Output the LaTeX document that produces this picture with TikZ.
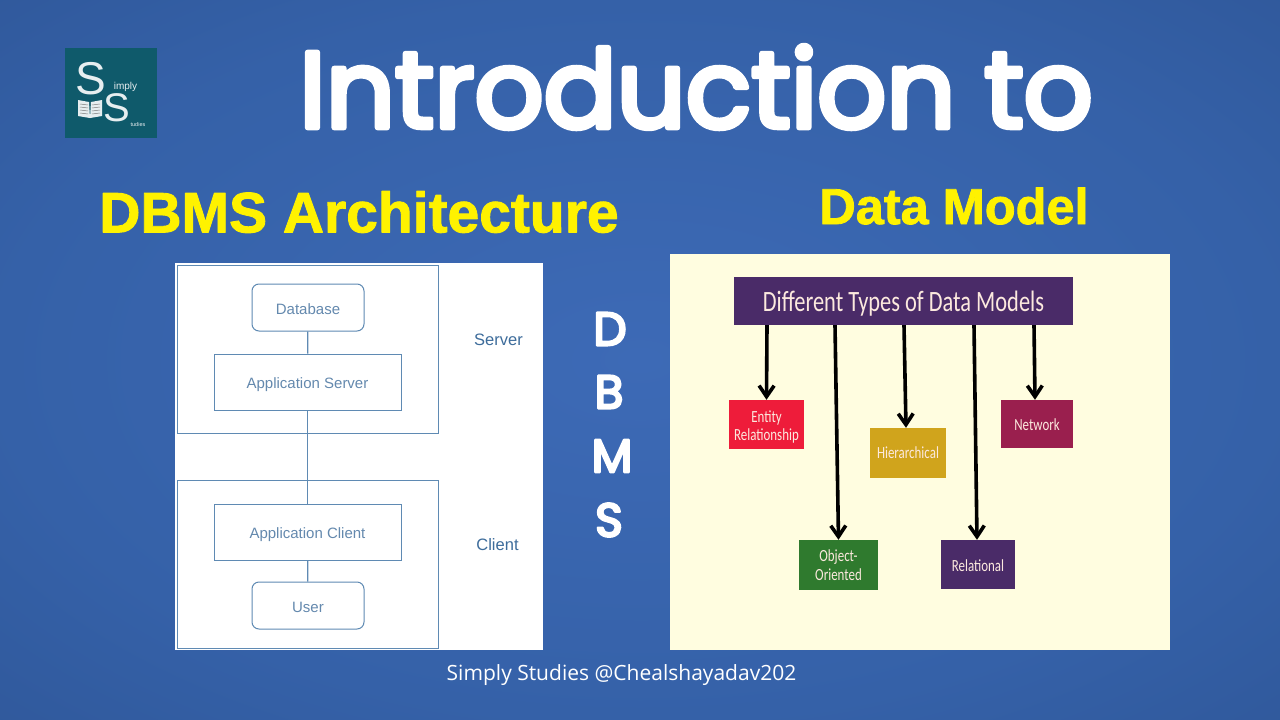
\documentclass[tikz,border=0pt]{standalone}
\usepackage{fontspec}
\usepackage{tikz}
\usetikzlibrary{arrows.meta}
\setmainfont{Liberation Sans}
\newfontfamily\roundfont[FakeBold=5]{Poppins}
\newfontfamily\yellowfont[FakeBold=1.6]{Liberation Sans Bold}
\newfontfamily\footfont{Open Sans}
\newfontfamily\canvafont[FakeStretch=0.76]{Carlito}
\definecolor{slidecentre}{HTML}{3D6AB6}
\definecolor{slidemid}{HTML}{3561A8}
\definecolor{slideedge}{HTML}{2A4F8D}
\definecolor{logoteal}{HTML}{0F5A6B}
\definecolor{archline}{HTML}{5F8AB3}
\definecolor{archtext}{HTML}{6489AE}
\definecolor{archlabel}{HTML}{3D6C9B}
\definecolor{cream}{HTML}{FFFDE0}
\definecolor{modelpurple}{HTML}{4A2B68}
\definecolor{modelred}{HTML}{EE1C3A}
\definecolor{modelgreen}{HTML}{2F7A2E}
\definecolor{modelgold}{HTML}{D0A41C}
\definecolor{modelwine}{HTML}{9A1F4E}
\definecolor{modeltext}{HTML}{FCE9DE}
\pgfdeclareradialshading{slidebg}{\pgfpoint{0bp}{0bp}}{%
    color(0bp)=(slidecentre); color(25bp)=(slidemid); color(50bp)=(slideedge); color(100bp)=(slideedge)}
\tikzset{
    archbox/.style={draw=archline, line width=1pt, text=archtext, font=\fontsize{15}{17}\selectfont, inner sep=0pt, text height=13.4pt, text depth=0pt},
    archround/.style={archbox, rounded corners=7pt, minimum width=112pt, minimum height=47pt},
    archrect/.style={archbox, minimum width=187pt, minimum height=56pt},
    archframe/.style={draw=archline, line width=1pt, inner sep=0pt, minimum width=261pt, minimum height=168pt},
    archlink/.style={draw=archline, line width=1.2pt},
    archside/.style={text=archlabel, font=\fontsize{16.5}{18}\selectfont},
    modelbox/.style={text=modeltext, font=\canvafont\fontsize{17}{18.5}\selectfont, align=center, inner sep=0pt},
    modelarrow/.style={line width=3.6pt, -{Straight Barb[length=11pt,width=15pt,line width=3.6pt]}},
    logotext/.style={text=white!90!logoteal, inner sep=0pt},
    dbmsletter/.style={text=white, font=\roundfont\fontsize{47}{50}\selectfont\pgfsetroundjoin, inner sep=0pt},
    yellowtitle/.style={text=yellow, inner sep=0pt}
}
\begin{document}
\begin{tikzpicture}[x=1pt, y=-1pt]
    \useasboundingbox (0,0) rectangle (1280,720);
    \shade[shading=slidebg] (0,0) rectangle (1280,720);

    % logo
    \fill[logoteal] (65,48) rectangle (157,138);
    \node[logotext, font=\fontsize{46}{46}\selectfont] (logoa) at (91,79) {S};
    \node[logotext, font=\fontsize{40}{40}\selectfont] (logob) at (117,108) {S};
    \node[logotext, font=\fontsize{10}{10}\selectfont] (logoc) at (125.5,87) {imply};
    \node[logotext, font=\fontsize{5.5}{6}\selectfont] (logod) at (138,125) {tudies};
    \fill[white!90!logoteal] (78,100) -- (89,102) -- (90,118) -- (78,116) -- cycle;
    \fill[white!90!logoteal] (102,100) -- (91,102) -- (90,118) -- (102,116) -- cycle;
    \foreach \y in {104,107,110,113} {
        \draw[gray, line width=0.5pt] (80,\y) -- (88,\y+1);
        \draw[gray, line width=0.5pt] (100,\y) -- (92,\y+1);
    }

    % headings
    \node[text=white, font=\roundfont\fontsize{108}{110}\selectfont\pgfsetroundjoin, inner sep=0pt] (maintitle) at (696,87) {Introduction to};
    \node[yellowtitle, font=\yellowfont\fontsize{57}{60}\selectfont\pgfsetroundjoin] (archtitle) at (359,212) {DBMS Architecture};
    \node[yellowtitle, font=\yellowfont\fontsize{50.5}{52}\selectfont\pgfsetroundjoin] (modeltitle) at (954,206) {Data Model};
    \node[dbmsletter] (dbmsd) at (610,329) {D};
    \node[dbmsletter] (dbmsb) at (609,392) {B};
    \node[dbmsletter] (dbmsm) at (612,456) {M};
    \node[dbmsletter] (dbmss) at (609,520) {S};

    % architecture panel
    \fill[white] (175,263) rectangle (543,650);
    \node[archframe] (serverframe) at (307.5,349) {};
    \node[archframe] (clientframe) at (307.5,564) {};
    \node[archround] (database) at (308,307.5) {Database};
    \node[archrect] (appserver) at (307.5,382) {Application Server};
    \node[archrect] (appclient) at (307.5,532) {Application Client};
    \node[archround] (user) at (308,605.5) {User};
    \node[archside] (serverlabel) at (498.5,340) {Server};
    \node[archside] (clientlabel) at (497.5,544.5) {Client};
    \draw[archlink] (database) -- (appserver);
    \draw[archlink] (appserver) -- (appclient);
    \draw[archlink] (appclient) -- (user);

    % data model panel
    \fill[cream] (670,254) rectangle (1170,650);
    \node[modelbox, fill=modelpurple, minimum width=339pt, minimum height=48pt, text height=21pt, text depth=0pt, font=\canvafont\fontsize{29.5}{30}\selectfont] (typestitle) at (903.5,301) {Different Types of Data Models};
    \node[modelbox, fill=modelred, minimum width=75pt, minimum height=49pt] (entity) at (766.5,424.5) {\rule{0pt}{17pt}Entity\\Relationship};
    \node[modelbox, fill=modelgreen, minimum width=79pt, minimum height=50pt] (object) at (838.5,565) {Object-\\Oriented};
    \node[modelbox, fill=modelgold, minimum width=76pt, minimum height=50pt] (hier) at (908,453) {Hierarchical};
    \node[modelbox, fill=modelpurple, minimum width=74pt, minimum height=49pt, text height=13pt, text depth=0pt] (relational) at (978,564.5) {Relational};
    \node[modelbox, fill=modelwine, minimum width=72pt, minimum height=48pt, text height=13pt, text depth=0pt] (network) at (1037,424) {Network};
    \draw[modelarrow] ([xshift=-136.5pt]typestitle.south) -- (entity.north);
    \draw[modelarrow] ([xshift=-68.5pt]typestitle.south) -- (object.north);
    \draw[modelarrow] ([xshift=0.5pt]typestitle.south) -- ([xshift=-2pt]hier.north);
    \draw[modelarrow] ([xshift=70.5pt]typestitle.south) -- ([xshift=-1pt]relational.north);
    \draw[modelarrow] ([xshift=130.5pt]typestitle.south) -- ([xshift=-2pt]network.north);

    \node[text=white, font=\footfont\fontsize{21}{24}\selectfont, inner sep=0pt] (credit) at (621.5,675.5) {Simply Studies @Chealshayadav202};
\end{tikzpicture}
\end{document}
